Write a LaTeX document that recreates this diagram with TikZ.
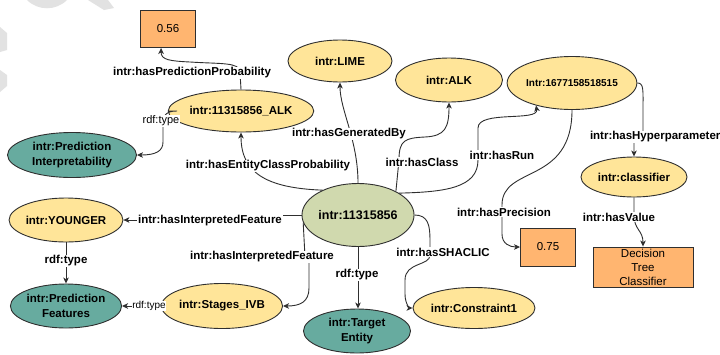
\documentclass[tikz,border=0pt]{standalone}
\usepackage{fontspec}
\setmainfont{Liberation Sans}
\usetikzlibrary{shapes.geometric,arrows.meta}

\definecolor{nodeyellow}{HTML}{FFE599}
\definecolor{nodeteal}{HTML}{67AB9F}
\definecolor{nodeolive}{HTML}{D0D9AE}
\definecolor{valorange}{HTML}{FFB570}
\definecolor{linegray}{HTML}{2F2F2F}
\definecolor{faintgray}{HTML}{E2E2E2}

\newcommand\nodefont{\fontsize{11.5}{15}\selectfont\bfseries}
\newcommand\valfont{\fontsize{11.5}{14}\selectfont}

\begin{document}
\begin{tikzpicture}[x=1pt,y=-1pt,
  base/.style={ellipse, draw=linegray, line width=0.9pt, inner sep=0pt,
    font=\nodefont, align=center},
  yell/.style={base, fill=nodeyellow},
  tealnode/.style={base, fill=nodeteal},
  olivenode/.style={base, fill=nodeolive, font=\fontsize{12.5}{15}\selectfont\bfseries},
  val/.style={rectangle, draw=linegray, line width=0.9pt, fill=valorange,
    font=\valfont, align=center, inner sep=0pt},
  rel/.style={draw=linegray, line width=0.9pt,
    -{Stealth[length=6pt,width=5.5pt,inset=1.6pt]}},
  lbl/.style={fill=white, inner sep=0.8pt, font=\fontsize{11.5}{13}\selectfont\bfseries},
  lbllight/.style={fill=white, inner sep=0.8pt, font=\fontsize{11}{13}\selectfont},
]
\useasboundingbox (0,0) rectangle (720,354);
\fill[white] (0,0) rectangle (720,354);

% faint background strokes, top left
\fill[faintgray] (27,0) .. controls (38,11) and (56,11) .. (67,0) -- cycle;
\fill[faintgray] (88,0) -- (108,0) -- (114,8) -- (104,10) -- cycle;
\fill[faintgray] (0,27) -- (7,33) -- (7,50) -- (0,52) -- cycle;
\fill[faintgray] (0,70) -- (7,75) -- (7,86) -- (0,92) -- cycle;

% nodes
\node[olivenode, minimum width=111pt, minimum height=63pt] (ent) at (358,215) {intr:11315856};
\node[yell, minimum width=108pt, minimum height=42pt] (alkprob) at (241,111) {intr:11315856\_ALK};
\node[val, minimum width=55pt, minimum height=37pt] (p56) at (168,29) {0.56};
\node[tealnode, minimum width=129pt, minimum height=45pt] (predint) at (72,155) {intr:Prediction\\Interpretability};
\node[yell, minimum width=104pt, minimum height=42pt] (lime) at (340,61) {intr:LIME};
\node[yell, minimum width=107pt, minimum height=44pt] (alk) at (449,80) {intr:ALK};
\node[yell, minimum width=109pt, minimum height=53pt, font=\fontsize{10}{12}\selectfont\bfseries] (run) at (572,83) {Intr:1677158518515};
\node[yell, minimum width=106pt, minimum height=40pt] (clf) at (634,177) {intr:classifier};
\node[val, minimum width=100pt, minimum height=40pt] (dtc) at (643,267) {Decision\\Tree\\Classifier};
\node[val, minimum width=55pt, minimum height=38pt] (p75) at (548,247) {0.75};
\node[yell, minimum width=106pt, minimum height=41pt] (shacl) at (474,308) {intr:Constraint1};
\node[tealnode, minimum width=107pt, minimum height=44pt] (target) at (357,331) {intr:Target\\Entity};
\node[yell, minimum width=109pt, minimum height=45pt] (stage) at (222,306) {intr:Stages\_IVB};
\node[yell, minimum width=105pt, minimum height=44pt] (young) at (66,220) {intr:YOUNGER};
\node[tealnode, minimum width=107pt, minimum height=44pt] (predfeat) at (66,306) {intr:Prediction\\Features};

% connectors
\draw[rel] (alkprob.north) -- (240,72) .. controls (240,62) and (220,64) .. (190,62)
  .. controls (170,61) and (161,60) .. (p56.250);
\node[lbl] at (192,73) {intr:hasPredictionProbability};

\draw[rel] (alkprob.west) -- (177,111) .. controls (165,111) and (163,116) .. (163,126)
  -- (163,142) .. controls (163,151) and (156,155) .. (predint.east);
\node[lbllight] at (161,121) {rdf:type};

\draw[rel] (ent.145) .. controls (265,188) and (241,172) .. (alkprob.south);
\node[lbl] at (268,166) {intr:hasEntityClassProbability};

\draw[rel] (ent.north) .. controls (358,140) and (340,110) .. (lime.south);
\node[lbl] at (349,134) {intr:hasGeneratedBy};

\draw[rel] (ent.32) -- (399,160) .. controls (399,140) and (405,138) .. (425,137)
  .. controls (445,136) and (449,128) .. (alk.south);
\node[lbl] at (422,162) {intr:hasClass};

\draw[rel] (ent.28) .. controls (445,192) and (478,188) .. (478,160) -- (478,128)
  .. controls (478,110) and (539,122) .. (run.212);
\node[lbl] at (502,155) {intr:hasRun};

\draw[rel] (run.south) .. controls (572,185) and (502,165) .. (502,205) -- (502,234)
  .. controls (502,244) and (510,247) .. (p75.west);
\node[lbl] at (504,212) {intr:hasPrecision};

\draw[rel] (run.east) .. controls (644,83) and (643,90) .. (643,110) -- (643,137)
  -- (634,137) -- (clf.north);
\node[lbl, anchor=west] at (589,137) {intr:hasHyperparameter};

\draw[rel] (clf.south) -- (634,215) .. controls (634,230) and (643,230) .. (dtc.north);
\node[lbl] at (619,217) {intr:hasValue};

\draw[rel] (ent.east) .. controls (428,215) and (430,225) .. (430,240) -- (430,255)
  .. controls (430,266) and (405,262) .. (405,280) -- (405,294)
  .. controls (405,304) and (410,308) .. (shacl.west);
\node[lbl] at (443,252) {intr:hasSHACLIC};

\draw[rel] (ent.west) -- (275,215) -- (275,220) -- (young.east);
\node[lbl] at (210,221) {intr:hasInterpretedFeature};

\draw[rel] (ent.188) -- (305,257) -- (309,257) -- (309,288)
  .. controls (309,302) and (300,306) .. (stage.east);
\node[lbl] at (262,257) {intr:hasInterpretedFeature};

\draw[rel] (ent.south) -- (ent.south |- target.north);
\node[lbl] at (357,275) {rdf:type};

\draw[rel] (young.south) -- (predfeat.north);
\node[lbl] at (66,261) {rdf:type};

\draw[rel] (stage.west) -- (predfeat.east);
\node[lbllight, font=\fontsize{10}{12}\selectfont] at (149,306) {rdf:type};
\end{tikzpicture}
\end{document}
